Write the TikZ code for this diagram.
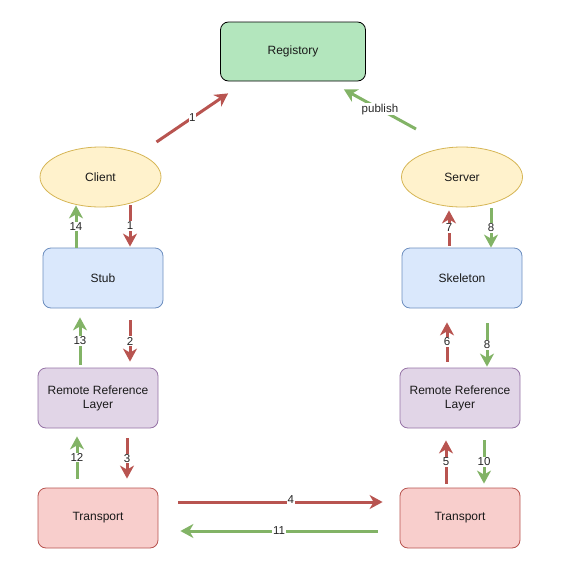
\documentclass[tikz,border=0pt]{standalone}
\usepackage{fontspec}
\setmainfont{Liberation Sans}
\usetikzlibrary{arrows.meta,shapes.geometric}
\definecolor{regfill}{HTML}{B3E6BD}
\definecolor{redS}{HTML}{B85450}\definecolor{redF}{HTML}{F8CECC}
\definecolor{grnS}{HTML}{82B366}
\definecolor{bluS}{HTML}{6C8EBF}\definecolor{bluF}{HTML}{DAE8FC}
\definecolor{purS}{HTML}{9673A6}\definecolor{purF}{HTML}{E1D5E7}
\definecolor{yelS}{HTML}{D6B656}\definecolor{yelF}{HTML}{FFF2CC}
\tikzset{
  box/.style={draw, rounded corners=8pt, minimum width=120pt, minimum height=60pt, inner sep=0pt, align=center, font=\fontsize{12}{14}\selectfont, text=black!90, line width=0.8pt},
  ell/.style={draw=yelS, fill=yelF, ellipse, minimum width=121pt, minimum height=60pt, inner sep=0pt, font=\fontsize{12}{14}\selectfont, text=black!90, line width=0.8pt},
  arr/.style={line width=3pt, -{Stealth[length=13pt,width=14pt,inset=4pt]}},
  ra/.style={arr, draw=redS, color=redS},
  ga/.style={arr, draw=grnS, color=grnS},
  lab/.style={fill=white, text=black!85, inner sep=0.6pt, font=\fontsize{11.5}{13}\selectfont},
}
\begin{document}
\begin{tikzpicture}[x=1pt,y=-1pt]
\useasboundingbox (0,0) rectangle (565,573);
\node[box, fill=regfill, draw=black, minimum width=145pt, minimum height=59pt] (reg) at (293,51.5) {Registory};
\node[ell] (client) at (100.5,177) {Client};
\node[ell] (server) at (462,177) {Server};
\node[box, draw=bluS, fill=bluF] (stub) at (103,278) {Stub};
\node[box, draw=bluS, fill=bluF] (skel) at (462,278) {Skeleton};
\node[box, draw=purS, fill=purF] (rrl) at (98,398) {Remote Reference\\Layer};
\node[box, draw=purS, fill=purF] (rrr) at (460,398) {Remote Reference\\Layer};
\node[box, draw=redS, fill=redF] (tl) at (98,518) {Transport};
\node[box, draw=redS, fill=redF] (tr) at (460,518) {Transport};
% top diagonals
\draw[ra] ([xshift=56pt,yshift=35pt]client.center) -- node[lab]{1} ([xshift=8pt,yshift=-12pt]reg.south west);
\draw[ga] ([xshift=-46pt,yshift=48pt]server.center) -- node[lab]{publish} ([xshift=-22pt,yshift=-8pt]reg.south east);
% left column
\draw[ga] ([xshift=-27pt]stub.north) -- node[lab]{14} ([xshift=-24.5pt,yshift=2pt]client.south);
\draw[ra] ([xshift=29.5pt,yshift=2pt]client.south) -- node[lab]{1} ([xshift=27pt,yshift=1pt]stub.north);
\draw[ga] ([xshift=-18pt,yshift=3pt]rrl.north) -- node[lab]{13} ([xshift=-23pt,yshift=-9pt]stub.south);
\draw[ra] ([xshift=27pt,yshift=-12pt]stub.south) -- node[lab]{2} ([xshift=32pt,yshift=6pt]rrl.north);
\draw[ga] ([xshift=-21pt,yshift=9pt]tl.north) -- node[lab]{12} ([xshift=-21pt,yshift=-8pt]rrl.south);
\draw[ra] ([xshift=29pt,yshift=-10pt]rrl.south) -- node[lab]{3} ([xshift=29pt,yshift=9pt]tl.north);
% transport
\draw[ra] ([xshift=20pt,yshift=16pt]tl.east) -- node[lab,pos=0.55,yshift=2pt]{4} ([xshift=-17pt,yshift=16pt]tr.west);
\draw[ga] ([xshift=-22pt,yshift=-13pt]tr.west) -- node[lab]{11} ([xshift=22pt,yshift=-13pt]tl.east);
% right column
\draw[ra] ([xshift=-14pt,yshift=4pt]tr.north) -- node[lab]{5} ([xshift=-14pt,yshift=-12pt]rrr.south);
\draw[ga] ([xshift=24pt,yshift=-12pt]rrr.south) -- node[lab]{10} ([xshift=24pt,yshift=4pt]tr.north);
\draw[ra] ([xshift=-13pt,yshift=6pt]rrr.north) -- node[lab]{6} ([xshift=-15pt,yshift=-14pt]skel.south);
\draw[ga] ([xshift=25pt,yshift=-15pt]skel.south) -- node[lab]{8} ([xshift=27pt,yshift=1pt]rrr.north);
\draw[ra] ([xshift=-13pt,yshift=2pt]skel.north) -- node[lab]{7} ([xshift=-13pt,yshift=-3pt]server.south);
\draw[ga] ([xshift=29pt,yshift=-1pt]server.south) -- node[lab]{8} ([xshift=29pt]skel.north);
\end{tikzpicture}
\end{document}
